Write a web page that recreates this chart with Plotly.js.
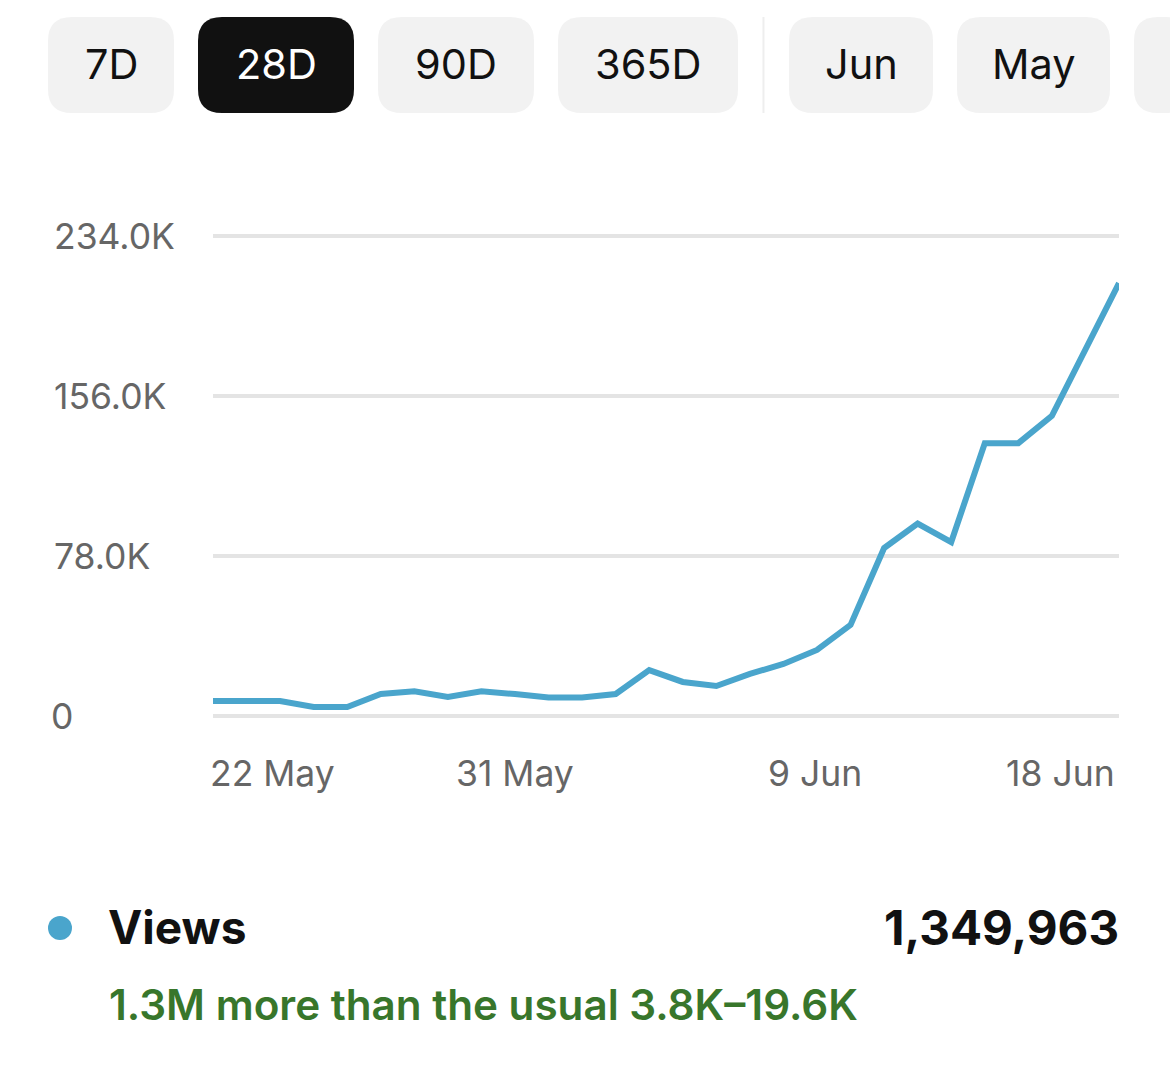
<!DOCTYPE html>
<html><head><meta charset="utf-8">
<script src="https://cdn.plot.ly/plotly-3.0.1.min.js"></script>
<style>html,body{margin:0;padding:0;background:#fff}</style></head>
<body><div id="chart" style="width:1170px;height:1080px"></div>
<script>
const days = ['22 May','23 May','24 May','25 May','26 May','27 May','28 May','29 May','30 May','31 May','1 Jun','2 Jun','3 Jun','4 Jun','5 Jun','6 Jun','7 Jun','8 Jun','9 Jun','10 Jun','11 Jun','12 Jun','13 Jun','14 Jun','15 Jun','16 Jun','17 Jun','18 Jun'];
const views = [7300,7300,7300,4400,4400,10700,12000,9300,12000,10700,9000,9000,10700,22400,16600,14600,20500,25400,32200,44400,81900,93800,84800,133000,133000,146300,178400,211000];
const yTicks = [0,78000,156000,234000];
const yTickText = ['0','78.0K','156.0K','234.0K'];
const xTickDays = ['22 May','31 May','9 Jun','18 Jun'];
const xTickAnchors = ['left','center','center','right'];
const buttonLabels = ['7D','28D','90D','365D','Jun','May',''];
const buttonLefts = [48,198,378,558,789,957,1134];
const buttonRights = [174,354,534,738,933,1110,1190];
const activeButton = '28D';
const seriesName = 'Views';
const seriesTotal = '1,349,963';
const note = '1.3M more than the usual 3.8K–19.6K';

const W = 1170, H = 1080;
const px = v => v / W, py = v => 1 - v / H;
const FONT = 'Inter, "Noto Sans", sans-serif';
const unitsPerPx = 234000 / 480;
function rr(x0,y0,x1,y1,r){
  const X=px, Y=py;
  return `M${X(x0+r)},${Y(y0)} L${X(x1-r)},${Y(y0)} Q${X(x1)},${Y(y0)} ${X(x1)},${Y(y0+r)} L${X(x1)},${Y(y1-r)} Q${X(x1)},${Y(y1)} ${X(x1-r)},${Y(y1)} L${X(x0+r)},${Y(y1)} Q${X(x0)},${Y(y1)} ${X(x0)},${Y(y1-r)} L${X(x0)},${Y(y0+r)} Q${X(x0)},${Y(y0)} ${X(x0+r)},${Y(y0)} Z`;
}
const shapes = buttonLabels.map((b,i)=>({type:'path',xref:'paper',yref:'paper',path:rr(buttonLefts[i],17,buttonRights[i],113,24),
  fillcolor:b===activeButton?'#111111':'#f2f2f2',line:{width:0},layer:'below'}));
shapes.push({type:'line',xref:'paper',yref:'paper',x0:px(763.5),x1:px(763.5),y0:py(17),y1:py(113),line:{color:'#eeeeee',width:2},layer:'below'});
shapes.push({type:'circle',xref:'paper',yref:'paper',x0:px(48),x1:px(72),y0:py(940),y1:py(916),fillcolor:'#4aa5cc',line:{width:0}});

const annotations = [];
const ann = o => annotations.push(Object.assign({showarrow:false,xref:'paper',yref:'paper',xanchor:'center',yanchor:'middle',borderpad:0},o));
buttonLabels.forEach((b,i)=>{ if(b) ann({x:px((buttonLefts[i]+buttonRights[i])/2),y:py(64),text:b,
  font:{family:FONT,size:41.5,color:b===activeButton?'#ffffff':'#111111'}}); });
yTicks.forEach((v,i)=>ann({x:px(v===0?50:53),xanchor:'left',yref:'y',y:v,text:yTickText[i],font:{family:FONT,size:35.5,color:'#666666'}}));
xTickDays.forEach((d,i)=>ann({xref:'x',x:days.indexOf(d),xanchor:xTickAnchors[i],xshift:[-4,0,-2,-3][i],y:py(773),text:d,font:{family:FONT,size:35.5,color:'#666666'}}));
ann({x:px(107),xanchor:'left',y:py(927),text:seriesName,font:{family:FONT,size:46,color:'#111111',weight:700}});
ann({x:px(1120),xanchor:'right',y:py(927),text:seriesTotal,font:{family:FONT,size:47.5,color:'#111111',weight:700}});
ann({x:px(108),xanchor:'left',y:py(1004),text:note,font:{family:FONT,size:42.2,color:'#38762b',weight:600}});

const traces = [
 {type:'scatter',mode:'lines',x:days.map((_,i)=>i),y:views,name:seriesName,line:{color:'#4aa5cc',width:6,shape:'linear'},cliponaxis:false,hoverinfo:'skip'}
];
Plotly.newPlot('chart',traces,{
  width:W,height:H,margin:{l:0,r:0,t:0,b:0},paper_bgcolor:'#fff',plot_bgcolor:'#fff',showlegend:false,
  xaxis:{domain:[px(213),px(1119)],range:[0,days.length-1],showgrid:false,zeroline:false,showline:false,showticklabels:false,ticks:''},
  yaxis:{domain:[py(726),py(226)],range:[-10*unitsPerPx,234000+10*unitsPerPx],tickvals:yTicks,showticklabels:false,ticks:'',gridcolor:'#e4e4e4',gridwidth:4,zeroline:false,showline:false},
  shapes,annotations
},{displayModeBar:false,staticPlot:true});
</script></body></html>
